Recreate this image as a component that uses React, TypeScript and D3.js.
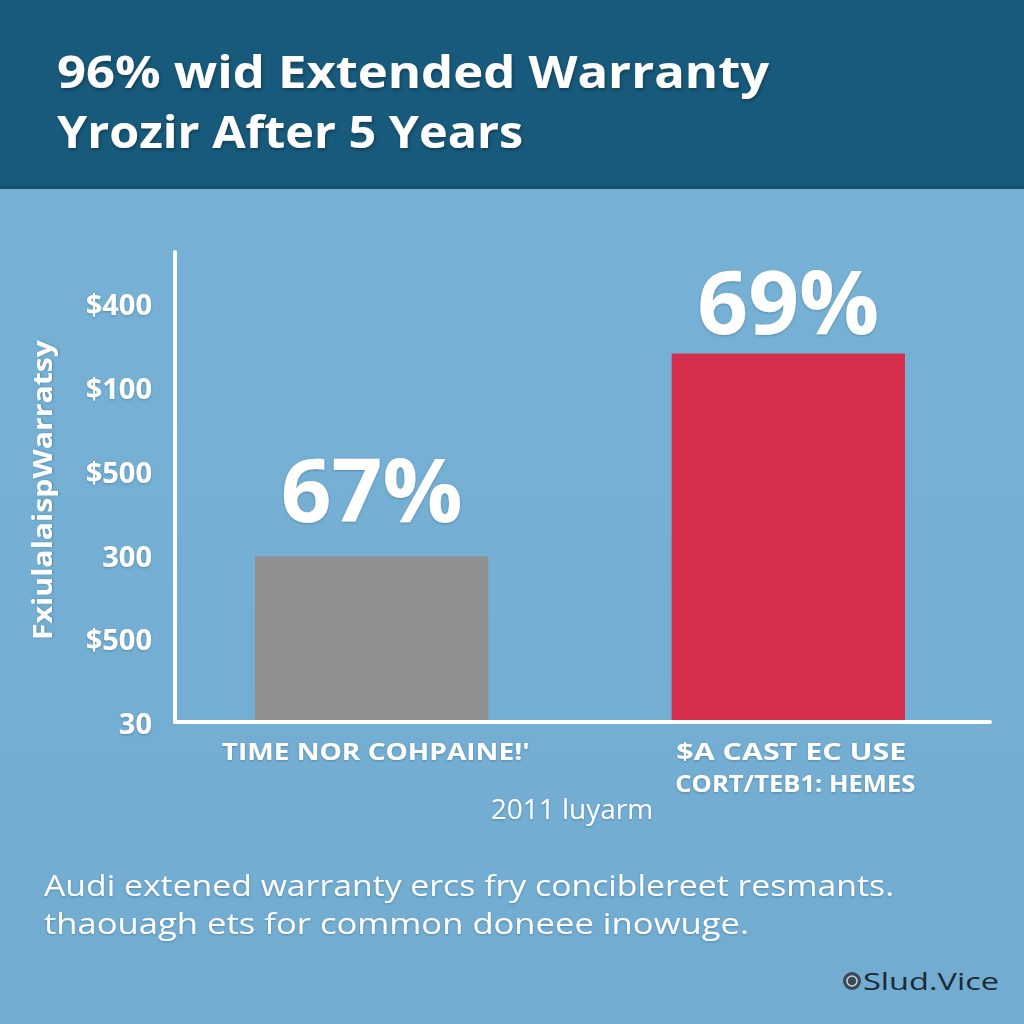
import React from "react";
import * as d3 from "d3";

const titleLines = ["96% wid Extended Warranty", "Yrozir After 5 Years"];
const yTickLabels = ["30", "$500", "300", "$500", "$100", "$400"];
const yAxisLabel = "FxiulalaispWarratsy";
const categories = ["TIME NOR COHPAINE!'", "$A CAST EC USE|CORT/TEB1: HEMES"];
const barLevels = [2.0, 4.42];
const barValueLabels = ["67%", "69%"];
const xAxisTitle = "2011 luyarm";
const footnoteLines = [
  "Audi extened warranty ercs fry conciblereet resmants.",
  "thaouagh ets for common doneee inowuge.",
];
const watermark = "Slud.Vice";
const barColors = ["#8f8f8f", "#d62f4e"];

export default function App() {
  const W = 1024;
  const H = 1024;
  const x0 = 175;
  const x1 = 990;
  const yBase = 722;
  const y = d3.scaleLinear().domain([0, 5]).range([724, 305]);
  const x = d3
    .scaleBand()
    .domain(categories)
    .range([255, 905])
    .paddingInner(0.44)
    .paddingOuter(0);
  const font = "'Open Sans', 'DejaVu Sans', sans-serif";
  return (
    <svg
      width={W}
      height={H}
      style={{ position: "absolute", left: 0, top: 0 }}
      fontFamily={font}
    >
      <defs>
        <filter id="sh" x="-5%" y="-20%" width="110%" height="150%">
          <feDropShadow dx="1" dy="2" stdDeviation="1.5" floodColor="#0a2a3d" floodOpacity="0.6" />
        </filter>
        <filter id="sh2" x="-5%" y="-20%" width="110%" height="150%">
          <feDropShadow dx="0" dy="1" stdDeviation="1" floodColor="#2a5a78" floodOpacity="0.45" />
        </filter>
        <linearGradient id="bg" x1="0" y1="0" x2="0" y2="1">
          <stop offset="0" stopColor="#78b2d5" />
          <stop offset="1" stopColor="#72acd1" />
        </linearGradient>
      </defs>
      <rect x={0} y={0} width={W} height={H} fill="url(#bg)" />
      <rect x={0} y={0} width={W} height={188} fill="#175a7b" />
      <rect x={0} y={186} width={W} height={3} fill="#14506e" />
      {titleLines.map((t, i) => (
        <text
          key={i}
          x={57}
          y={88 + i * 60}
          fill="#ffffff"
          fontSize={44}
          fontWeight={700}
          filter="url(#sh)"
          textLength={i === 0 ? 712 : 466}
          lengthAdjust="spacingAndGlyphs"
        >
          {t}
        </text>
      ))}

      {/* axes */}
      <line x1={x0} y1={252} x2={x0} y2={yBase} stroke="#ffffff" strokeWidth={4} strokeLinecap="round" />
      <line x1={x0} y1={yBase} x2={x1} y2={yBase} stroke="#ffffff" strokeWidth={4} strokeLinecap="round" />

      {yTickLabels.map((t, i) => (
        <text
          key={i}
          x={152}
          y={y(i)}
          dy="0.35em"
          textAnchor="end"
          fill="#ffffff"
          fontSize={29}
          fontWeight={700}
          filter="url(#sh2)"
        >
          {t}
        </text>
      ))}

      <text
        transform={`translate(52,490) rotate(-90)`}
        textAnchor="middle"
        fill="#ffffff"
        fontSize={26}
        fontWeight={700}
        textLength={300}
        lengthAdjust="spacingAndGlyphs"
        filter="url(#sh2)"
      >
        {yAxisLabel}
      </text>

      {categories.map((c, i) => {
        const bx = x(c)!;
        const bw = x.bandwidth();
        const top = y(barLevels[i]);
        return (
          <g key={c}>
            <rect x={bx} y={top} width={bw} height={yBase - 2 - top} fill={barColors[i]} />
            <text
              x={bx + bw / 2}
              y={top - (i === 0 ? 34 : 20)}
              textAnchor="middle"
              fill="#ffffff"
              fontSize={88}
              fontWeight={700}
              filter="url(#sh2)"
              textLength={182}
              lengthAdjust="spacingAndGlyphs"
            >
              {barValueLabels[i]}
            </text>
            {c.split("|").map((ln, j) => (
              <text
                key={j}
                x={bx + bw / 2 + (i === 0 ? 4 : 3 + j * 4)}
                y={760 + j * 32}
                textAnchor="middle"
                fill="#ffffff"
                fontSize={24}
                fontWeight={700}
                filter="url(#sh2)"
                textLength={i === 0 ? 308 : j === 0 ? 230 : 240}
                lengthAdjust="spacingAndGlyphs"
              >
                {ln}
              </text>
            ))}
          </g>
        );
      })}

      <text x={572} y={819} textAnchor="middle" fill="#ffffff" fontSize={28} filter="url(#sh2)">
        {xAxisTitle}
      </text>

      {footnoteLines.map((t, i) => (
        <text
          key={i}
          x={44}
          y={896 + i * 38}
          fill="#ffffff"
          fontSize={30}
          filter="url(#sh2)"
          textLength={i === 0 ? 850 : 705}
          lengthAdjust="spacingAndGlyphs"
        >
          {t}
        </text>
      ))}

      <g transform="translate(852,981)">
        <circle cx={0} cy={0} r={9} fill="#3a4a55" />
        <circle cx={0} cy={0} r={5} fill="none" stroke="#c9d6de" strokeWidth={1.5} />
      </g>
      <text x={999} y={990} textAnchor="end" fill="#1c2a33" fontSize={24} textLength={136} lengthAdjust="spacingAndGlyphs">
        {watermark}
      </text>
    </svg>
  );
}
